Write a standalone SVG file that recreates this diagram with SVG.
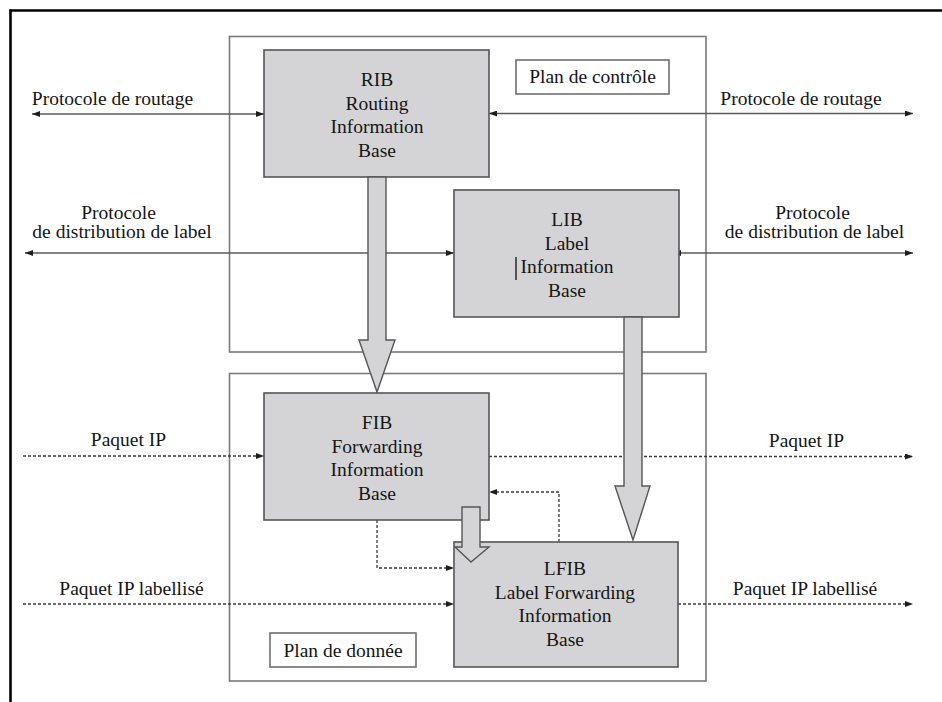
<svg xmlns="http://www.w3.org/2000/svg" width="942" height="702" viewBox="0 0 942 702">
  <defs>
    <style>
      text { font-family: "Liberation Serif", "Times New Roman", serif; font-size: 19.5px; fill: #151515; }
      .c { text-anchor: middle; }
      .plane { fill: #ffffff; stroke: #7a7a7a; stroke-width: 1.6; }
      .tag { fill: #ffffff; stroke: #6e6e6e; stroke-width: 1.6; }
      .base { fill: #d4d4d6; stroke: #555555; stroke-width: 1.6; }
      .bigarrow { fill: #d4d4d6; stroke: #555555; stroke-width: 1.4; stroke-linejoin: miter; }
      .solid { fill: none; stroke: #5a5a5a; stroke-width: 1.3; }
      .dotted { fill: none; stroke: #3a3a3a; stroke-width: 1.3; stroke-dasharray: 3 2; }
    </style>
    <marker id="head" viewBox="0 0 8 6" refX="8" refY="3" markerWidth="8" markerHeight="6" markerUnits="userSpaceOnUse" orient="auto-start-reverse">
      <path d="M0,0 L8,3 L0,6 Z" fill="#1e1e1e"/>
    </marker>
  </defs>

  <rect width="942" height="702" fill="#ffffff"/>

  <!-- page frame (top and left edges) -->
  <g id="frame">
    <line x1="9.5" y1="10.5" x2="942" y2="10.5" stroke="#000" stroke-width="2.6"/>
    <line x1="10.5" y1="9.5" x2="10.5" y2="702" stroke="#000" stroke-width="2.6"/>
  </g>

  <!-- control plane and data plane containers -->
  <g id="control-plane">
    <rect class="plane" x="229.5" y="36.5" width="476.5" height="315.5"/>
    <rect class="tag" x="516" y="60" width="153" height="34"/>
    <text x="592.5" y="83" class="c">Plan de contrôle</text>
  </g>
  <g id="data-plane">
    <rect class="plane" x="229.5" y="373.5" width="476.5" height="307.5"/>
    <rect class="tag" x="270" y="633" width="146" height="34"/>
    <text x="343" y="656.5" class="c">Plan de donnée</text>
  </g>

  <!-- connectors -->
  <g id="connectors">
    <!-- routing protocol -->
    <line class="solid" x1="32" y1="114" x2="264" y2="114" marker-start="url(#head)" marker-end="url(#head)"/>
    <line class="solid" x1="489" y1="113.5" x2="913" y2="113.5" marker-start="url(#head)" marker-end="url(#head)"/>
    <!-- label distribution protocol -->
    <line class="solid" x1="25" y1="253" x2="454" y2="253" marker-start="url(#head)" marker-end="url(#head)"/>
    <line class="solid" x1="673" y1="253" x2="913" y2="253" marker-start="url(#head)" marker-end="url(#head)"/>
    <!-- IP packets -->
    <line class="dotted" x1="23" y1="456" x2="264" y2="456" marker-end="url(#head)"/>
    <line class="dotted" x1="489" y1="456.5" x2="913" y2="456.5" marker-end="url(#head)"/>
    <!-- labelled IP packets -->
    <line class="dotted" x1="23" y1="604" x2="454" y2="604" marker-end="url(#head)"/>
    <line class="dotted" x1="678" y1="604" x2="913" y2="604" marker-end="url(#head)"/>
    <!-- FIB <-> LFIB exchanges -->
    <path class="dotted" d="M377,520 V568 H454" marker-end="url(#head)"/>
    <path class="dotted" d="M559,542 V492 H489" marker-end="url(#head)"/>

    <text x="112.5" y="105" class="c">Protocole de routage</text>
    <text x="801" y="105" class="c">Protocole de routage</text>
    <text x="118.5" y="219" class="c">Protocole</text>
    <text x="122" y="238" class="c">de distribution de label</text>
    <text x="812.5" y="219" class="c">Protocole</text>
    <text x="814.5" y="238" class="c">de distribution de label</text>
    <text x="128.5" y="446" class="c">Paquet IP</text>
    <text x="806.5" y="447" class="c">Paquet IP</text>
    <text x="131.5" y="595" class="c">Paquet IP labellisé</text>
    <text x="805" y="595" class="c">Paquet IP labellisé</text>
  </g>

  <!-- nodes -->
  <g id="rib">
    <rect class="base" x="264" y="50" width="225" height="127"/>
    <text x="377" y="86" class="c">RIB</text>
    <text x="377" y="109.5" class="c">Routing</text>
    <text x="377" y="133" class="c">Information</text>
    <text x="377" y="156.5" class="c">Base</text>
  </g>
  <g id="lib">
    <rect class="base" x="454" y="190" width="225" height="127"/>
    <text x="567" y="226" class="c">LIB</text>
    <text x="567" y="249.5" class="c">Label</text>
    <text x="567" y="273" class="c">Information</text>
    <text x="567" y="296.5" class="c">Base</text>
    <line x1="516" y1="257" x2="516" y2="280" stroke="#1e1e1e" stroke-width="1.4"/>
  </g>
  <g id="fib">
    <rect class="base" x="264" y="393" width="225" height="127"/>
    <text x="377" y="429" class="c">FIB</text>
    <text x="377" y="452.5" class="c">Forwarding</text>
    <text x="377" y="476" class="c">Information</text>
    <text x="377" y="499.5" class="c">Base</text>
  </g>
  <g id="lfib">
    <rect class="base" x="454" y="542" width="224" height="125"/>
    <text x="565" y="575" class="c">LFIB</text>
    <text x="565" y="598.5" class="c">Label Forwarding</text>
    <text x="565" y="622" class="c">Information</text>
    <text x="565" y="645.5" class="c">Base</text>
  </g>

  <!-- table derivation arrows -->
  <g id="derivations">
    <polygon class="bigarrow" points="368,177 386,177 386,340 395,340 377,392 359,340 368,340"/>
    <polygon class="bigarrow" points="624,317 642,317 642,486 650,486 633,540 615,486 624,486"/>
    <polygon class="bigarrow" points="462,507 480,507 480,547 489,547 471,562 455,547 462,547"/>
  </g>
</svg>
